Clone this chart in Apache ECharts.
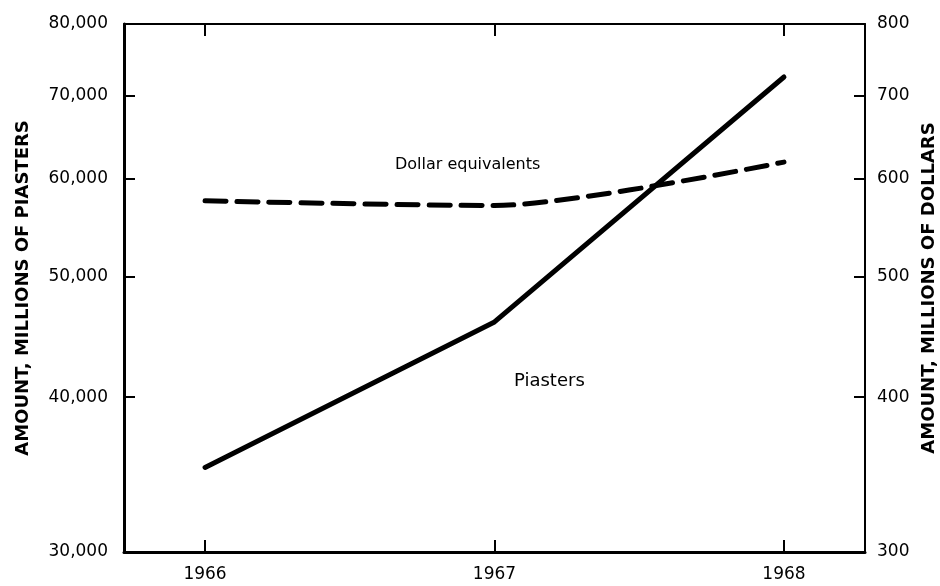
<!DOCTYPE html>
<html>
<head>
<meta charset="utf-8">
<script src="https://cdn.jsdelivr.net/npm/echarts@6/dist/echarts.min.js"></script>
<style>
  html, body { margin: 0; padding: 0; background: #fff; }
  #chart { width: 940px; height: 586px; }
</style>
</head>
<body>
<div id="chart"></div>
<script>
// years on the x axis
const years = [1966, 1967, 1968]
// amount, millions of piasters (left axis)
const piasters = [35100, 46000, 72500]
// dollar equivalents, millions of dollars (right axis)
const dollars = [576, 571, 619]
// tick labels
const piasterTicks = [30000, 40000, 50000, 60000, 70000, 80000]
const dollarTicks = [300, 400, 500, 600, 700, 800]

const font = 'DejaVu Sans'
const chart = echarts.init(document.getElementById('chart'))

const option = {
  backgroundColor: '#fff',
  animation: false,
  textStyle: { fontFamily: font, color: '#000' },
  grid: { left: 124, right: 75, top: 24, bottom: 34, outerBoundsMode: 'none' },
  xAxis: [
    {
      type: 'value',
      min: 1965.72,
      max: 1968.28,
      position: 'bottom',
      splitLine: { show: false },
      axisLine: { lineStyle: { color: '#000', width: 3 } },
      axisTick: { inside: true, length: 12, customValues: years, lineStyle: { color: '#000', width: 2 } },
      axisLabel: { customValues: years, margin: 14, color: '#000', fontSize: 17, fontFamily: font, formatter: v => String(v) }
    },
    {
      type: 'value',
      min: 1965.72,
      max: 1968.28,
      position: 'top',
      splitLine: { show: false },
      axisLine: { lineStyle: { color: '#000', width: 2 } },
      axisTick: { inside: true, length: 12, customValues: years, lineStyle: { color: '#000', width: 2 } },
      axisLabel: { show: false }
    }
  ],
  yAxis: [
    {
      type: 'log',
      min: 30000,
      max: 80000,
      position: 'left',
      name: 'AMOUNT, MILLIONS OF PIASTERS',
      nameLocation: 'middle',
      nameRotate: 90,
      nameGap: 92,
      nameTextStyle: { fontSize: 18, fontWeight: 'bold', color: '#000', fontFamily: font },
      splitLine: { show: false },
      axisLine: { show: true, lineStyle: { color: '#000', width: 3 } },
      axisTick: { inside: true, length: 11, customValues: piasterTicks, lineStyle: { color: '#000', width: 2 } },
      axisLabel: {
        customValues: piasterTicks,
        margin: 16,
        color: '#000',
        fontSize: 17,
        fontFamily: font,
        formatter: v => Math.round(v).toLocaleString('en-US')
      }
    },
    {
      type: 'log',
      min: 300,
      max: 800,
      position: 'right',
      name: 'AMOUNT, MILLIONS OF DOLLARS',
      nameLocation: 'middle',
      nameRotate: 90,
      nameGap: 55,
      nameTextStyle: { fontSize: 18, fontWeight: 'bold', color: '#000', fontFamily: font },
      splitLine: { show: false },
      axisLine: { show: true, lineStyle: { color: '#000', width: 2 } },
      axisTick: { inside: true, length: 11, customValues: dollarTicks, lineStyle: { color: '#000', width: 2 } },
      axisLabel: {
        customValues: dollarTicks,
        margin: 12,
        color: '#000',
        fontSize: 17,
        fontFamily: font,
        formatter: v => String(Math.round(v))
      }
    }
  ],
  series: [
    {
      name: 'Piasters',
      type: 'line',
      xAxisIndex: 0,
      yAxisIndex: 0,
      data: years.map((y, i) => [y, piasters[i]]),
      showSymbol: false,
      lineStyle: { color: '#000', width: 5, cap: 'round', join: 'round' }
    },
    {
      name: 'Dollar equivalents',
      type: 'line',
      xAxisIndex: 0,
      yAxisIndex: 1,
      data: years.map((y, i) => [y, dollars[i]]),
      showSymbol: false,
      smooth: 0.25,
      lineStyle: { color: '#000', width: 5, type: [21, 11], cap: 'round', join: 'round' }
    }
  ],
  graphic: [
    {
      type: 'text',
      left: 395,
      top: 157,
      style: { text: 'Dollar equivalents', fontSize: 16, fontFamily: font, fill: '#000' }
    },
    {
      type: 'text',
      left: 514,
      top: 372,
      style: { text: 'Piasters', fontSize: 18, fontFamily: font, fill: '#000' }
    }
  ]
}

chart.setOption(option)
</script>
</body>
</html>
